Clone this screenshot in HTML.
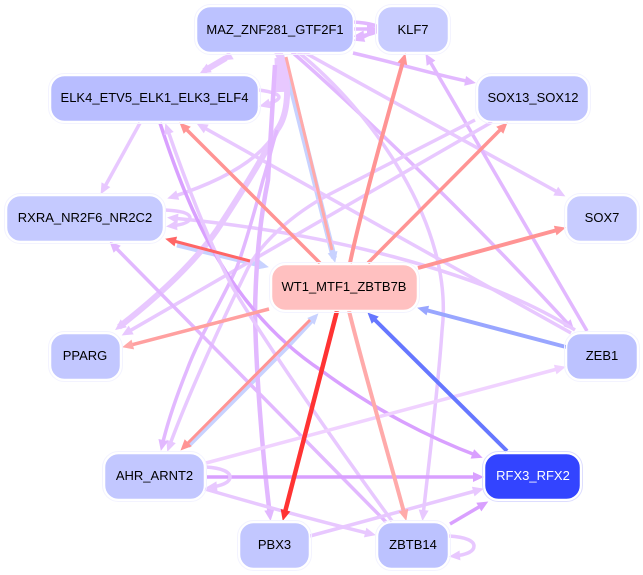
<!DOCTYPE html>
<html><head><meta charset="utf-8"><style>
html,body{margin:0;padding:0;background:#fff}
svg{display:block}
text{font-family:"Liberation Sans",sans-serif;font-size:13px;text-anchor:middle;fill:#000}
path{fill:none;stroke-width:3.5}
.a{stroke:#e8c8ff}.b{stroke:#e2b8ff}.c{stroke:#d9a0ff}.d{stroke:#f0d2ff}
.n{stroke:#fff;stroke-width:1.5}
.o{fill:none;stroke:#f3f3ff;stroke-width:1}
</style></head><body>
<svg width="643" height="575" viewBox="0 0 643 575" xmlns="http://www.w3.org/2000/svg">
<defs>
<marker id="ma" markerUnits="userSpaceOnUse" markerWidth="14" markerHeight="12" refX="5" refY="5" orient="auto" overflow="visible"><polygon points="-1,0 10,5 -1,10" fill="#e8c8ff"/></marker>
<marker id="mb" markerUnits="userSpaceOnUse" markerWidth="14" markerHeight="12" refX="5" refY="5" orient="auto" overflow="visible"><polygon points="-1,0 10,5 -1,10" fill="#e2b8ff"/></marker>
<marker id="mc" markerUnits="userSpaceOnUse" markerWidth="14" markerHeight="12" refX="5" refY="5" orient="auto" overflow="visible"><polygon points="-1,0 10,5 -1,10" fill="#d9a0ff"/></marker>
<marker id="md" markerUnits="userSpaceOnUse" markerWidth="14" markerHeight="12" refX="5" refY="5" orient="auto" overflow="visible"><polygon points="-1,0 10,5 -1,10" fill="#f0d2ff"/></marker>
<marker id="mr" markerUnits="userSpaceOnUse" markerWidth="14" markerHeight="12" refX="5" refY="5" orient="auto" overflow="visible"><polygon points="-1,0 10,5 -1,10" fill="#ff9494"/></marker>
<marker id="mp" markerUnits="userSpaceOnUse" markerWidth="14" markerHeight="12" refX="5" refY="5" orient="auto" overflow="visible"><polygon points="-1,0 10,5 -1,10" fill="#ffaaaa"/></marker>
<marker id="mR" markerUnits="userSpaceOnUse" markerWidth="14" markerHeight="12" refX="5" refY="5" orient="auto" overflow="visible"><polygon points="-1,0 10,5 -1,10" fill="#ff3333"/></marker>
<marker id="mq" markerUnits="userSpaceOnUse" markerWidth="14" markerHeight="12" refX="5" refY="5" orient="auto" overflow="visible"><polygon points="-1,0 10,5 -1,10" fill="#ff6666"/></marker>
<marker id="ml" markerUnits="userSpaceOnUse" markerWidth="14" markerHeight="12" refX="5" refY="5" orient="auto" overflow="visible"><polygon points="-1,0 10,5 -1,10" fill="#c8d2ff"/></marker>
<marker id="mB" markerUnits="userSpaceOnUse" markerWidth="14" markerHeight="12" refX="5" refY="5" orient="auto" overflow="visible"><polygon points="-1,0 10,5 -1,10" fill="#6677ff"/></marker>
<marker id="mm" markerUnits="userSpaceOnUse" markerWidth="14" markerHeight="12" refX="5" refY="5" orient="auto" overflow="visible"><polygon points="-1,0 10,5 -1,10" fill="#99a6ff"/></marker>
</defs>

<!-- light blue edges -->
<path d="M287 70L334 258" stroke="#c8d2ff" style="stroke-width:6" marker-end="url(#ml)"/>
<path d="M177 245L264 266" stroke="#c8d2ff" style="stroke-width:5" marker-end="url(#ml)"/>
<path d="M188 446L287 347L315 317" stroke="#c8d2ff" style="stroke-width:5" marker-end="url(#ml)"/>

<!-- purple edges -->
<path class="a" d="M226 58L204 71" style="stroke-width:6" marker-start="url(#ma)" marker-end="url(#ma)"/>
<path class="a" d="M259 90C274 92 279 95 279 97C279 100 272 103 264 105" marker-end="url(#ma)"/>
<path class="b" d="M353 22C370 23 379 26 379 29C379 32 370 35 358 36" marker-end="url(#mb)"/>
<path class="b" d="M353 29C362 29 368 29 373 29" marker-end="url(#mb)"/>
<path class="b" d="M378 29C370 34 364 37 358 39" marker-end="url(#mb)"/>
<path class="b" d="M353 53C400 64 440 76 471 82" marker-end="url(#mb)"/>
<path class="a" d="M300 50C390 100 490 155 561 194" marker-end="url(#ma)"/>
<path class="b" d="M292 52C330 85 450 195 571 327" marker-end="url(#mb)"/>
<path class="a" d="M298 52C370 110 455 225 442 331C438 390 428 470 423 516" marker-end="url(#ma)"/>
<path class="b" d="M587 331L428 58" marker-end="url(#mb)"/>
<path class="a" d="M575 330C480 270 320 232 172 218" marker-end="url(#ma)"/>
<path class="a" d="M571 333L201 126" marker-end="url(#ma)"/>
<path class="a" d="M475 120L330 194C290 215 260 245 248 268C225 315 190 390 169 447" marker-end="url(#ma)"/>
<path class="a" d="M492 122L126 333" marker-end="url(#ma)"/>
<path class="a" d="M281 55C291 85 288 115 277 130C262 160 240 195 217 230C195 262 160 295 119 327" style="stroke-width:6" marker-end="url(#ma)"/>
<path class="a" d="M283 60C290 90 287 110 277 130C262 158 225 180 172 197" marker-end="url(#ma)"/>
<path class="a" d="M279 58L280 92" style="stroke-width:9" marker-start="url(#ma)"/>
<path class="b" d="M277 130C272 145 268 165 263 180C255 210 245 245 237 267C220 305 200 335 187 370C177 395 168 420 162 446" marker-end="url(#mb)"/>
<path class="b" d="M275 65L268 180C262 210 256 250 255 313C256 370 262 450 270 516" style="stroke-width:4.500" marker-end="url(#mb)"/>
<path class="a" d="M140 123L103 190" marker-end="url(#ma)"/>
<path class="c" d="M160 123C190 215 230 310 322 371C375 410 430 438 478 456" marker-end="url(#mc)"/>
<path class="a" d="M392 521C340 450 270 350 233 288C210 245 185 180 167 128" marker-end="url(#ma)"/>
<path class="a" d="M165 210C184 211 190 214 190 218C190 223 180 225 171 226" marker-end="url(#ma)"/>
<path class="b" d="M386 522L113 245" marker-end="url(#mb)"/>
<path class="d" d="M206 463L561 368" marker-end="url(#md)"/>
<path class="c" d="M206 477L479 477" marker-end="url(#mc)"/>
<path class="a" d="M206 467C222 468 230 472 230 477C230 483 220 486 211 487" marker-end="url(#ma)"/>
<path class="a" d="M205 489C270 508 330 524 371 534" marker-end="url(#ma)"/>
<path class="a" d="M310 536L479 490" marker-end="url(#ma)"/>
<path class="c" d="M450 524L484 504" marker-end="url(#mc)"/>
<path class="a" d="M449 536C466 537 474 541 474 546C474 552 465 555 454 556" marker-end="url(#ma)"/>

<!-- red edges -->
<path d="M286 57C300 115 318 190 332 250" stroke="#ffaaaa" style="stroke-width:3"/>
<path d="M320 263L183 126" stroke="#ff9494" marker-end="url(#mr)"/>
<path d="M350 263C360 215 385 125 404 58" stroke="#ff9494" style="stroke-width:4" marker-end="url(#mr)"/>
<path d="M368 263L504 126" stroke="#ff9494" marker-end="url(#mr)"/>
<path d="M418 268L561 229" stroke="#ff9494" style="stroke-width:4" marker-end="url(#mr)"/>
<path d="M269 309L127 346" stroke="#ffa0a0" marker-end="url(#mp)"/>
<path d="M250 261L170 240" stroke="#ff6666" style="stroke-width:3" marker-end="url(#mq)"/>
<path d="M310 320L184 447" stroke="#ff9494" style="stroke-width:3" marker-end="url(#mr)"/>
<path d="M349 311C365 375 390 460 405 516" stroke="#ffaaaa" style="stroke-width:4" marker-end="url(#mp)"/>
<path d="M337 311L284 516" stroke="#ff3333" style="stroke-width:4.500" marker-end="url(#mR)"/>
<!-- blue edges -->
<path d="M507 451L371 316" stroke="#6677ff" style="stroke-width:4" marker-end="url(#mB)"/>
<path d="M566 347L422 309" stroke="#99a6ff" style="stroke-width:4" marker-end="url(#mm)"/>

<!-- nodes -->
<g>
<rect class="o" x="194.500" y="4.500" width="161" height="50" rx="16"/><rect class="n" x="196.500" y="6.500" width="157" height="46" rx="14" fill="#bcc2ff"/><text x="275" y="34">MAZ_ZNF281_GTF2F1</text>
<rect class="o" x="375.500" y="4.500" width="75" height="50" rx="16"/><rect class="n" x="377.500" y="6.500" width="71" height="46" rx="14" fill="#c8ccff"/><text x="413" y="34">KLF7</text>
<rect class="o" x="48.500" y="73.500" width="212" height="50" rx="16"/><rect class="n" x="50.500" y="75.500" width="208" height="46" rx="14" fill="#b8bdff"/><text x="154.500" y="102">ELK4_ETV5_ELK1_ELK3_ELF4</text>
<rect class="o" x="475.500" y="73.500" width="115" height="50" rx="16"/><rect class="n" x="477.500" y="75.500" width="111" height="46" rx="14" fill="#c0c5ff"/><text x="533" y="102">SOX13_SOX12</text>
<rect class="o" x="4.500" y="193.500" width="161" height="50" rx="16"/><rect class="n" x="6.500" y="195.500" width="157" height="46" rx="14" fill="#c5caff"/><text x="85" y="222">RXRA_NR2F6_NR2C2</text>
<rect class="o" x="564.500" y="193.500" width="75" height="50" rx="16"/><rect class="n" x="566.500" y="195.500" width="71" height="46" rx="14" fill="#c8ccff"/><text x="602" y="222">SOX7</text>
<rect class="o" x="269.500" y="262.500" width="150" height="50" rx="16"/><rect class="n" x="271.500" y="264.500" width="146" height="46" rx="14" fill="#ffc0c0"/><text x="344" y="291">WT1_MTF1_ZBTB7B</text>
<rect class="o" x="48.500" y="331.500" width="74" height="50" rx="16"/><rect class="n" x="50.500" y="333.500" width="70" height="46" rx="14" fill="#c2c7ff"/><text x="85" y="360">PPARG</text>
<rect class="o" x="564.500" y="331.500" width="75" height="50" rx="16"/><rect class="n" x="566.500" y="333.500" width="71" height="46" rx="14" fill="#bcc2ff"/><text x="602" y="360">ZEB1</text>
<rect class="o" x="102.500" y="451.500" width="104" height="50" rx="16"/><rect class="n" x="104.500" y="453.500" width="100" height="46" rx="14" fill="#c2c7ff"/><text x="154.500" y="480">AHR_ARNT2</text>
<rect class="o" x="482.500" y="451.500" width="100" height="50" rx="16" style="stroke:#ddddff"/><rect class="n" x="484.500" y="453.500" width="96" height="46" rx="14" fill="#3344ff"/><text x="533" y="480" style="fill:#fff">RFX3_RFX2</text>
<rect class="o" x="237.500" y="520.500" width="74" height="50" rx="16"/><rect class="n" x="239.500" y="522.500" width="70" height="46" rx="14" fill="#c2c7ff"/><text x="274.500" y="549">PBX3</text>
<rect class="o" x="375.500" y="520.500" width="75" height="50" rx="16"/><rect class="n" x="377.500" y="522.500" width="71" height="46" rx="14" fill="#bcc2ff"/><text x="413" y="549">ZBTB14</text>
</g>
</svg>
</body></html>
